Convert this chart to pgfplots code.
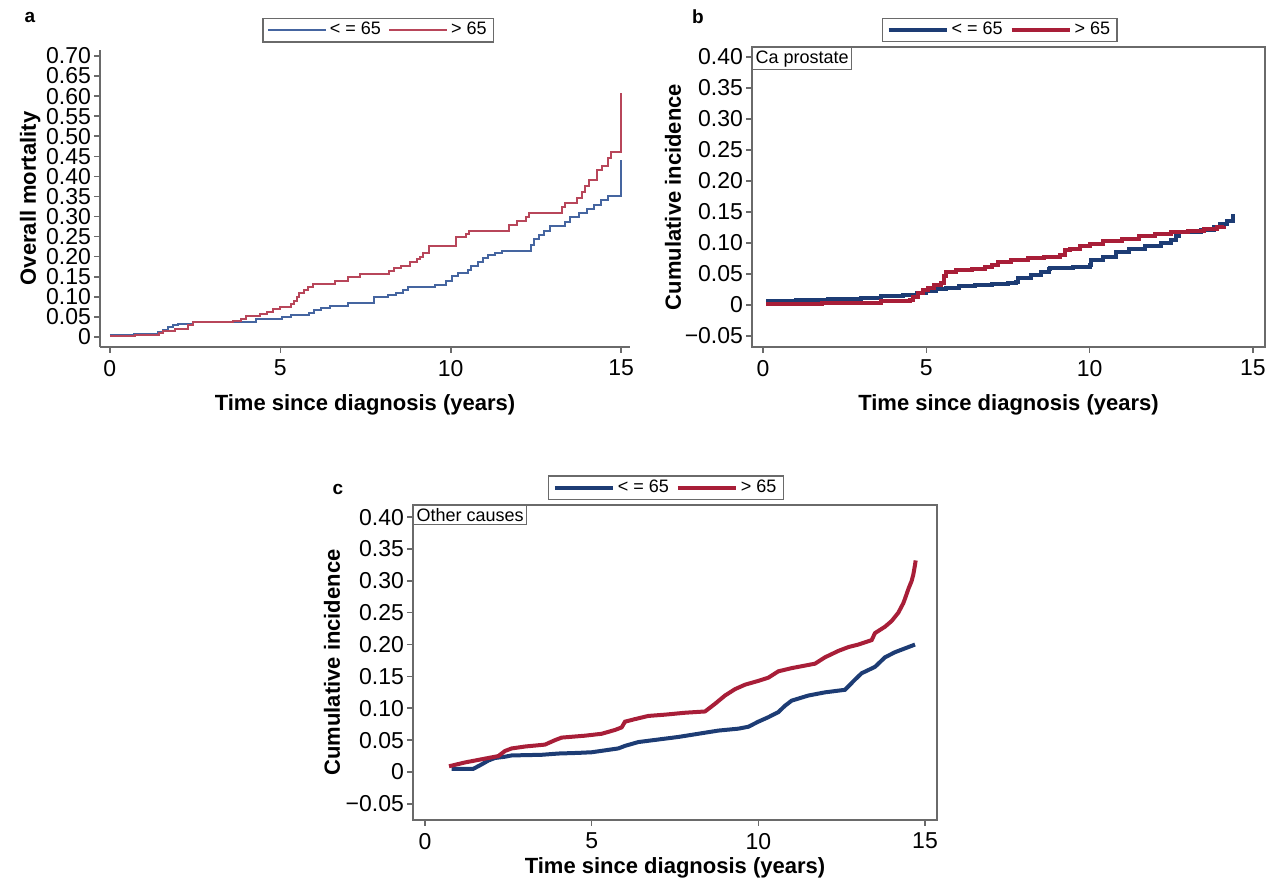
\documentclass[border=0pt]{standalone}
\usepackage{fontspec}
\setmainfont{Liberation Sans}
\usepackage{pgfplots}
\pgfplotsset{compat=1.18}

\definecolor{bluea}{HTML}{4565A0}
\definecolor{reda}{HTML}{B8465A}
\definecolor{blueb}{HTML}{1D3C74}
\definecolor{redb}{HTML}{A81E38}
\definecolor{axgray}{HTML}{6A6A6A}

\pgfplotsset{
  panel/.style={
    scale only axis,
    anchor=south west,
    axis line style={axgray, line width=0.9pt},
    tick style={axgray, line width=0.8pt},
    tick align=outside,
    major tick length=3pt,
    tick pos=left,
    xtick={0,5,10,15},
    xticklabels={0,5,10,15},
    ticklabel style={font=\fontsize{11.5}{12}\selectfont},
    yticklabel style={xshift=2pt},
    label style={font=\fontsize{11}{12}\selectfont\bfseries},
    xlabel={Time since diagnosis (years)},
    xlabel style={yshift=-2pt},
    ylabel style={yshift=-5pt},
    legend columns=2,
    legend style={draw=axgray, line width=0.6pt, font=\fontsize{9}{10}\selectfont,
      anchor=south, inner xsep=2pt, inner ysep=0.5pt, nodes={inner sep=1.5pt},
      /tikz/every even column/.append style={column sep=2pt}},
    legend image code/.code={\draw[#1] (0pt,0pt) -- (29pt,0pt);},
  },
}

\begin{document}
\begin{tikzpicture}
\useasboundingbox (0,0) rectangle (636pt,440.5pt);

\node[font=\fontsize{9.5}{10}\selectfont\bfseries] at (15pt,432pt) {a};
\node[font=\fontsize{9.5}{10}\selectfont\bfseries] at (349pt,432pt) {b};
\node[font=\fontsize{9.5}{10}\selectfont\bfseries] at (169pt,196pt) {c};

% panel a
\begin{axis}[panel, at={(50pt,267pt)}, width=265pt, height=148.5pt,
  axis x line*=bottom, axis y line*=left,
  xmin=-0.29, xmax=15.26, ymin=-0.025, ymax=0.715,
  ytick={0,0.05,0.10,0.15,0.20,0.25,0.30,0.35,0.40,0.45,0.50,0.55,0.60,0.65,0.70},
  yticklabels={0,0.05,0.10,0.15,0.20,0.25,0.30,0.35,0.40,0.45,0.50,0.55,0.60,0.65,0.70},
  ylabel={Overall mortality},
  ylabel style={yshift=1pt},
  legend style={at={(0.525,1.025)}},
  const plot]
\addplot[bluea, line width=1pt] coordinates {
(0,0.006)(0.7,0.008)(1.4,0.012)(1.55,0.018)(1.7,0.024)(1.85,0.029)(2.0,0.033)
(2.45,0.037)(4.3,0.045)(5.05,0.05)(5.3,0.055)(5.85,0.06)(6.0,0.066)(6.2,0.071)
(6.45,0.077)(7.0,0.085)(7.75,0.1)(8.15,0.105)(8.4,0.11)(8.6,0.117)(8.75,0.125)
(9.55,0.13)(9.85,0.14)(10.05,0.152)(10.2,0.16)(10.5,0.167)(10.6,0.176)(10.8,0.186)
(10.95,0.196)(11.1,0.203)(11.3,0.21)(11.5,0.215)(12.35,0.23)(12.45,0.245)(12.6,0.255)
(12.75,0.265)(12.9,0.277)(13.35,0.287)(13.5,0.3)(13.75,0.31)(14.0,0.32)(14.2,0.33)
(14.4,0.34)(14.6,0.35)(15.0,0.44)};
\addplot[reda, line width=1pt] coordinates {
(0,0.002)(0.75,0.006)(1.45,0.01)(1.55,0.015)(1.9,0.02)(2.3,0.03)(2.45,0.037)
(3.6,0.04)(3.85,0.045)(4.0,0.052)(4.4,0.057)(4.6,0.063)(4.8,0.07)(5.0,0.075)
(5.3,0.082)(5.4,0.09)(5.5,0.1)(5.55,0.11)(5.7,0.118)(5.8,0.125)(5.95,0.132)
(6.6,0.14)(7.0,0.15)(7.35,0.157)(8.2,0.165)(8.35,0.172)(8.55,0.178)(8.8,0.186)
(9.0,0.193)(9.1,0.2)(9.2,0.21)(9.35,0.227)(10.15,0.25)(10.45,0.257)(10.55,0.264)
(11.7,0.28)(11.95,0.29)(12.2,0.3)(12.3,0.31)(13.25,0.325)(13.35,0.335)(13.7,0.345)
(13.85,0.36)(13.95,0.375)(14.05,0.39)(14.3,0.415)(14.45,0.425)(14.6,0.445)
(14.7,0.46)(15.0,0.608)};
\legend{< = 65, > 65}
\end{axis}

% panel b
\begin{axis}[panel, at={(376pt,267pt)}, width=256.5pt, height=150pt,
  axis line style={axgray, line width=0.7pt},
  xmin=-0.337, xmax=15.37, ymin=-0.0677, ymax=0.416,
  ytick={-0.05,0,0.05,0.10,0.15,0.20,0.25,0.30,0.35,0.40},
  yticklabels={−0.05,0,0.05,0.10,0.15,0.20,0.25,0.30,0.35,0.40},
  ylabel={Cumulative incidence},
  legend style={at={(0.483,1.015)}},
  const plot]
\addplot[blueb, line width=2pt] coordinates {
(0.1,0.006)(1.0,0.008)(2.0,0.01)(3.0,0.012)(3.6,0.014)(4.3,0.016)(4.7,0.019)
(5.0,0.022)(5.3,0.025)(5.6,0.028)(6.0,0.031)(6.5,0.033)(7.0,0.034)(7.5,0.035)
(7.75,0.037)(7.8,0.043)(8.2,0.048)(8.5,0.053)(8.75,0.058)(8.8,0.06)(9.5,0.062)
(10.0,0.065)(10.05,0.073)(10.4,0.078)(10.8,0.085)(11.2,0.09)(11.7,0.095)(12.2,0.1)
(12.5,0.105)(12.65,0.112)(12.75,0.117)(13.4,0.121)(13.8,0.125)(14.0,0.13)
(14.2,0.136)(14.4,0.147)};
\addplot[redb, line width=2pt] coordinates {
(0.1,0.002)(1.8,0.003)(2.7,0.004)(3.6,0.006)(4.5,0.008)(4.6,0.013)(4.75,0.019)
(4.9,0.024)(5.05,0.028)(5.25,0.032)(5.45,0.036)(5.55,0.046)(5.6,0.053)(5.9,0.056)
(6.4,0.058)(6.8,0.061)(7.0,0.065)(7.2,0.07)(7.6,0.072)(8.1,0.075)(8.6,0.077)
(9.1,0.08)(9.25,0.088)(9.4,0.091)(9.7,0.095)(10.0,0.099)(10.4,0.103)(11.0,0.107)
(11.5,0.111)(12.0,0.115)(12.5,0.118)(13.0,0.12)(13.5,0.122)(13.9,0.125)(14.1,0.127)};
\legend{< = 65, > 65}
\node[draw=axgray, line width=0.6pt, fill=white, anchor=north west, inner sep=1.5pt,
  font=\fontsize{9}{10}\selectfont] at (rel axis cs:0,1) {Ca prostate};
\end{axis}

% panel c
\begin{axis}[panel, at={(206.5pt,30.5pt)}, width=262pt, height=157.5pt,
  axis line style={axgray, line width=0.7pt},
  xmin=-0.36, xmax=15.36, ymin=-0.0753, ymax=0.419,
  ytick={-0.05,0,0.05,0.10,0.15,0.20,0.25,0.30,0.35,0.40},
  yticklabels={−0.05,0,0.05,0.10,0.15,0.20,0.25,0.30,0.35,0.40},
  ylabel={Cumulative incidence},
  ylabel style={yshift=1pt},
  xlabel style={yshift=5pt},
  legend style={at={(0.483,1.015)}}]
\addplot[blueb, line width=2pt] coordinates {
(0.8,0.005)(1.45,0.005)(1.7,0.012)(1.9,0.018)(2.1,0.022)(2.4,0.024)(2.6,0.026)
(3.5,0.027)(4.0,0.029)(4.6,0.03)(5.0,0.031)(5.4,0.034)(5.8,0.037)(6.0,0.041)
(6.4,0.047)(7.0,0.051)(7.6,0.055)(8.2,0.06)(8.8,0.065)(9.4,0.068)(9.7,0.071)
(10.0,0.079)(10.3,0.086)(10.6,0.094)(10.8,0.104)(11.0,0.112)(11.5,0.12)(12.0,0.125)
(12.6,0.129)(12.9,0.145)(13.1,0.155)(13.5,0.165)(13.8,0.18)(14.1,0.188)(14.4,0.194)
(14.7,0.2)};
\addplot[redb, line width=2pt] coordinates {
(0.72,0.009)(1.2,0.015)(1.7,0.02)(2.2,0.025)(2.4,0.033)(2.6,0.037)(3.0,0.04)
(3.6,0.043)(3.9,0.05)(4.1,0.054)(4.8,0.057)(5.3,0.06)(5.7,0.066)(5.9,0.07)
(6.0,0.079)(6.3,0.083)(6.7,0.088)(7.2,0.09)(7.8,0.093)(8.4,0.095)(8.7,0.107)
(9.0,0.12)(9.3,0.13)(9.6,0.137)(10.0,0.143)(10.3,0.148)(10.6,0.158)(11.0,0.163)
(11.7,0.17)(12.0,0.18)(12.4,0.19)(12.7,0.196)(13.0,0.2)(13.4,0.207)(13.5,0.218)
(13.8,0.228)(14.0,0.237)(14.2,0.25)(14.35,0.265)(14.4,0.272)(14.5,0.287)(14.6,0.3)
(14.65,0.31)(14.7,0.325)(14.72,0.332)};
\legend{< = 65, > 65}
\node[draw=axgray, line width=0.6pt, fill=white, anchor=north west, inner sep=1.5pt,
  font=\fontsize{9}{10}\selectfont] at (rel axis cs:0,1) {Other causes};
\end{axis}
\end{tikzpicture}
\end{document}
